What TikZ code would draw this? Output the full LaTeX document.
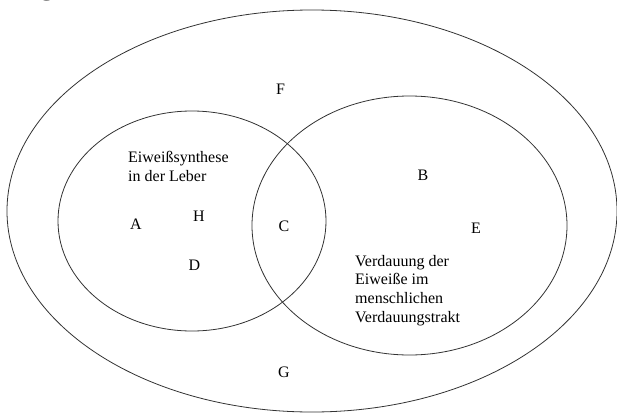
\documentclass[tikz,border=0pt]{standalone}
\usepackage{fontspec}
\setmainfont{Liberation Serif}
\begin{document}
\begin{tikzpicture}[x=1pt,y=-1pt,
  ring/.style={draw=black!80,line width=0.8pt},
  lbl/.style={inner sep=0pt,anchor=base,font=\fontsize{16}{19}\selectfont},
  blocktext/.style={inner sep=0pt,anchor=base west,align=left,font=\fontsize{16}{18.6}\selectfont}]
\useasboundingbox (0,0) rectangle (617,412);
% cut-off caption letter at the top edge
\node[inner sep=0pt,anchor=base,font=\fontsize{30}{34}\selectfont] (cap) at (47,-5.5) {g};
% sets
\draw[ring] (312,211) ellipse [x radius=305, y radius=201];
\draw[ring] (192,221) ellipse [x radius=134, y radius=110];
\draw[ring] (409.5,225.5) ellipse [x radius=157.5, y radius=129.5];
% labels
\node[lbl] (F) at (280.5,94) {F};
\node[lbl] (B) at (423,180) {B};
\node[lbl] (E) at (476,233) {E};
\node[lbl] (A) at (136,229) {A};
\node[lbl] (H) at (199,221) {H};
\node[lbl] (D) at (194.5,270.7) {D};
\node[lbl] (C) at (284,231.7) {C};
\node[lbl] (G) at (284,377) {G};
\node[blocktext] (leber) at (128,181) {Eiweißsynthese\\[0.4pt]in der Leber};
\node[blocktext] (verd) at (355,322) {Verdauung der\\Eiweiße im\\menschlichen\\Verdauungstrakt};
\end{tikzpicture}
\end{document}
